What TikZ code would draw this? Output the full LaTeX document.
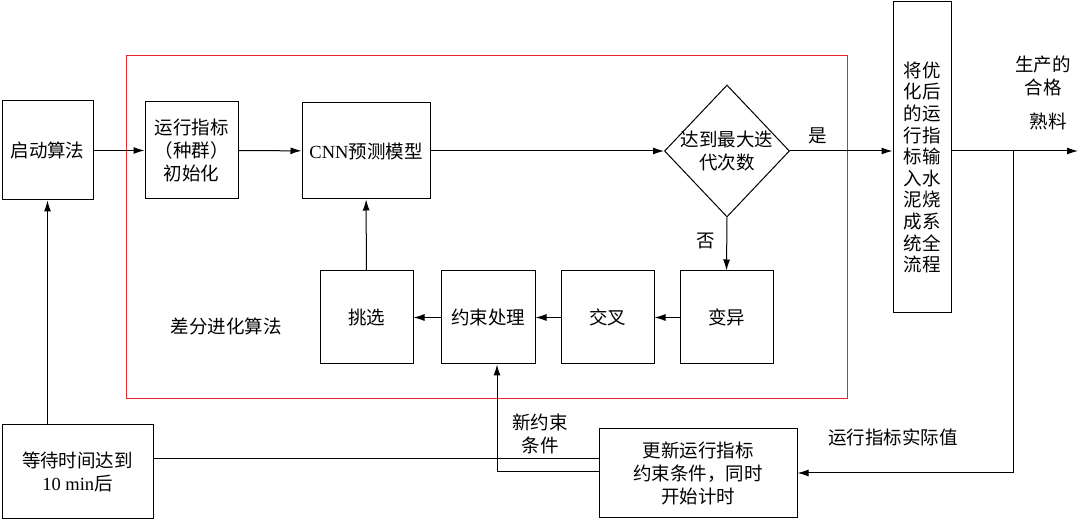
\documentclass[tikz,border=0pt]{standalone}
\usepackage{fontspec}
\setmainfont{Liberation Serif}
\newfontfamily\cjk{Noto Sans CJK SC}
\usepackage{tikz}
\usetikzlibrary{arrows.meta, shapes.geometric, calc}
\definecolor{frameR}{RGB}{225,40,45}
\tikzset{box/.style={draw, line width=1pt, inner sep=0pt, align=center},
  flow/.style={line width=1pt, -{Latex[length=11pt,width=7pt]}},
  txt/.style={font=\cjk\fontsize{18.5}{23}\selectfont, align=center}}

\begin{document}
\begin{tikzpicture}[x=1pt, y=-1pt, every node/.style={txt}]
\useasboundingbox (0,0) rectangle (1080,521);
% differential evolution frame
\draw[frameR, line width=0.8pt] (126,55) rectangle (847,398);
\node at (226,326) {差分进化算法};
% top row
\node[box, minimum width=91, minimum height=99] (start) at (47.5,150.5) {启动算法};
\node[box, minimum width=93, minimum height=97] (init) at (191.5,150.5) {运行指标\\（种群）\\初始化};
\node[box, minimum width=128, minimum height=96] (cnn) at (366,151) {{\rmfamily CNN}预测模型};
\node[draw, line width=1pt, diamond, minimum width=125, minimum height=132, inner sep=0pt] (judge) at (727,151) {};
\node at (judge.center) {达到最大迭\\代次数};
\node[box, minimum width=58, minimum height=311] (out) at (922,157.5) {};
\node[font=\cjk\fontsize{18.5}{21.6}\selectfont] at ([yshift=-10pt]out.center)
  {将优\\化后\\的运\\行指\\标输\\入水\\泥烧\\成系\\统全\\流程};
% lower row
\node[box, minimum width=93, minimum height=93] (pick) at (366.5,317.5) {挑选};
\node[box, minimum width=94, minimum height=93] (cons) at (488,317.5) {约束处理};
\node[box, minimum width=93, minimum height=93] (cross) at (607.5,317.5) {交叉};
\node[box, minimum width=93, minimum height=93] (mut) at (726.5,317.5) {变异};
% bottom
\node[box, minimum width=151, minimum height=93] (wait) at (77.5,471.5) {等待时间达到\\{\rmfamily 10 min}后};
\node[box, minimum width=198, minimum height=88] (update) at (698,473) {更新运行指标\\约束条件，同时\\开始计时};
\coordinate (tap) at (1013,151);
\coordinate (end) at (1078,151);
% connectors
\draw[flow] (start) -- (init);
\draw[flow] (init) -- (cnn);
\draw[flow] (cnn) -- (judge.west);
\draw[flow] (judge.east) -- (judge.east -| out.west) node[pos=0.27, above=3pt] {是};
\draw[flow] (judge.east -| out.east) -- (end);
\draw[flow] (judge.south) -- (mut.north) node[pos=0.45, left=8pt] {否};
\draw[flow] (mut) -- (cross);
\draw[flow] (cross) -- (cons);
\draw[flow] (cons) -- (pick);
\draw[flow] (pick) -- (cnn);
\draw[flow] (tap) |- (update.east);
\draw[flow] ([yshift=1pt]update.west) -| ([xshift=9pt]cons.south);
\draw[line width=1pt] ([yshift=13pt]wait.east) -- ([yshift=13pt]wait.east -| update.west);
\draw[flow] (wait.north -| start.south) -- (start.south);
% free labels
\node at (540,434) {新约束\\条件};
\node at (893,437) {运行指标实际值};
\node at (1043,76) {生产的\\合格};
\node at (1048,121) {熟料};
\end{tikzpicture}
\end{document}
